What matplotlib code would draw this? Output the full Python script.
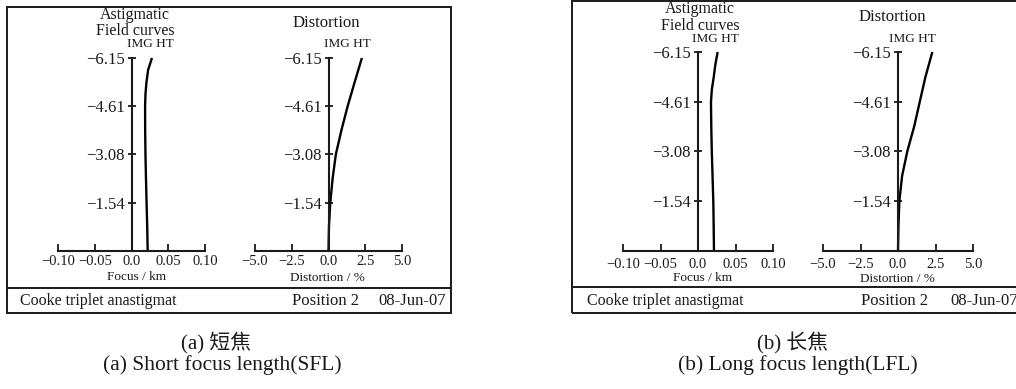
import matplotlib
matplotlib.use("Agg")
import matplotlib.pyplot as plt
from matplotlib.patches import Rectangle
from matplotlib.lines import Line2D

plt.rcParams['font.family'] = ['Liberation Serif', 'Noto Sans CJK SC']

W, H = 1016, 389

# ---- data ----
field_heights = [0.0, 0.77, 1.54, 2.31, 3.08, 3.85, 4.61, 5.0, 5.38, 5.77, 6.15]
astig_sfl = [0.0220, 0.0214, 0.0205, 0.0197, 0.0190, 0.0186, 0.0185, 0.0190, 0.0204, 0.0226, 0.0278]
astig_lfl = [0.0213, 0.0209, 0.0204, 0.0194, 0.0184, 0.0177, 0.0173, 0.0185, 0.0210, 0.0232, 0.0262]
dist_heights = [0.0, 0.77, 1.54, 2.31, 3.08, 3.85, 4.61, 5.38, 6.15]
dist_sfl = [0.0, 0.03, 0.12, 0.28, 0.50, 0.88, 1.30, 1.78, 2.27]
dist_lfl = [0.0, 0.03, 0.09, 0.27, 0.62, 1.08, 1.45, 1.83, 2.29]

y_ticks = [1.54, 3.08, 4.61, 6.15]
y_ticklabels = ['\u22121.54', '\u22123.08', '\u22124.61', '\u22126.15']
focus_ticks = [-0.10, -0.05, 0.0, 0.05, 0.10]
focus_ticklabels = ['\u22120.10', '\u22120.05', '0.0', '0.05', '0.10']
dist_ticks = [-5.0, -2.5, 0.0, 2.5, 5.0]
dist_ticklabels = ['\u22125.0', '\u22122.5', '0.0', '2.5', '5.0']

fig = plt.figure(figsize=(W / 100, H / 100), dpi=100)
fig.patch.set_facecolor('white')

TXT = '#1a1a1a'


def fx(x):
    return x / W


def fy(y):
    return 1 - y / H


def add_ax(x0, x1, ytop, ybot):
    return fig.add_axes([fx(x0), fy(ybot), (x1 - x0) / W, (ybot - ytop) / H])


def style(ax, xlim, xticks, xlabels, xtick_pad):
    ax.set_xlim(*xlim)
    ax.set_ylim(0, 6.15)
    ax.patch.set_alpha(0)
    for s in ('top', 'right'):
        ax.spines[s].set_visible(False)
    ax.spines['left'].set_position(('data', 0))
    ax.spines['left'].set_linewidth(1.5)
    ax.spines['bottom'].set_linewidth(1.5)
    ax.spines['left'].set_color(TXT)
    ax.spines['bottom'].set_color(TXT)
    ax.set_yticks(y_ticks)
    ax.set_yticklabels(y_ticklabels, fontsize=12, color=TXT)
    ax.set_xticks(xticks)
    ax.set_xticklabels(xlabels, fontsize=10.5, color=TXT)
    ax.tick_params(axis='y', direction='inout', length=6, width=1.3, pad=2, colors=TXT)
    ax.tick_params(axis='x', direction='in', length=5, width=1.3, pad=xtick_pad, colors=TXT)


panels = [
    dict(ast=(58, 205), dst=(255, 402), ytop=58, astig=astig_sfl, dist=dist_sfl,
         box=(7, 7, 451, 313), sep=288, xpad=3,
         t1=(135, 15), t2=(135, 31), img1=(150, 44), dt=(326, 23), img2=(347, 44),
         xl1=(137, 277), xl2=(327, 278), foot_y=301, foot=(20, 292, 378),
         cap1=(216, 343, '(a) 短焦'), cap2=(222, 365, '(a) Short focus length(SFL)')),
    dict(ast=(623, 773), dst=(823, 973), ytop=52, astig=astig_lfl, dist=dist_lfl,
         box=(572, 1, 1030, 313), sep=287, xpad=5,
         t1=(700, 9), t2=(700, 26), img1=(715, 39), dt=(892, 17), img2=(912, 39),
         xl1=(703, 278), xl2=(897, 279), foot_y=301, foot=(587, 861, 950),
         cap1=(793, 343, '(b) 长焦'), cap2=(798, 365, '(b) Long focus length(LFL)')),
]

for p in panels:
    a1 = add_ax(p['ast'][0], p['ast'][1], p['ytop'], 251)
    style(a1, (-0.10, 0.10), focus_ticks, focus_ticklabels, p['xpad'])
    a1.plot(p['astig'], field_heights, color='black', lw=1.7, clip_on=False,
            solid_capstyle='butt')

    a2 = add_ax(p['dst'][0], p['dst'][1], p['ytop'], 251)
    style(a2, (-5.0, 5.0), dist_ticks, dist_ticklabels, p['xpad'])
    a2.plot(p['dist'], dist_heights, color='black', lw=1.7, clip_on=False,
            solid_capstyle='butt')

    # frame
    x0, y0, x1, y1 = p['box']
    fig.patches.append(Rectangle((fx(x0), fy(y1)), (x1 - x0) / W, (y1 - y0) / H,
                                 transform=fig.transFigure, fill=False,
                                 edgecolor=TXT, lw=1.4))
    fig.lines.append(Line2D([fx(x0), fx(x1)], [fy(p['sep']), fy(p['sep'])],
                            transform=fig.transFigure, color=TXT, lw=1.4))

    # titles
    fig.text(fx(p['t1'][0]), fy(p['t1'][1]), 'Astigmatic', ha='center', va='center', fontsize=11.5, color=TXT)
    fig.text(fx(p['t2'][0]), fy(p['t2'][1]), 'Field curves', ha='center', va='center', fontsize=11.5, color=TXT)
    fig.text(fx(p['img1'][0]), fy(p['img1'][1]), 'IMG HT', ha='center', va='center', fontsize=9.5, color=TXT)
    fig.text(fx(p['dt'][0]), fy(p['dt'][1]), 'Distortion', ha='center', va='center', fontsize=12, color=TXT)
    fig.text(fx(p['img2'][0]), fy(p['img2'][1]), 'IMG HT', ha='center', va='center', fontsize=9.5, color=TXT)
    fig.text(fx(p['xl1'][0]), fy(p['xl1'][1]), 'Focus / km', ha='center', va='center', fontsize=9.5, color=TXT)
    fig.text(fx(p['xl2'][0]), fy(p['xl2'][1]), 'Distortion / %', ha='center', va='center', fontsize=9.5, color=TXT)

    # footer
    fy_ = fy(p['foot_y'])
    fig.text(fx(p['foot'][0]), fy_, 'Cooke triplet anastigmat', ha='left', va='center', fontsize=11.5, color=TXT)
    fig.text(fx(p['foot'][1]), fy_, 'Position 2', ha='left', va='center', fontsize=12, color=TXT)
    fig.text(fx(p['foot'][2]), fy_, '08-Jun-07', ha='left', va='center', fontsize=12, color=TXT)

    # captions
    fig.text(fx(p['cap1'][0]), fy(p['cap1'][1]), p['cap1'][2], ha='center', va='center', fontsize=15, color=TXT)
    fig.text(fx(p['cap2'][0]), fy(p['cap2'][1]), p['cap2'][2], ha='center', va='center', fontsize=15.5, color=TXT)

fig.savefig('out.png', dpi=100, facecolor='white')
